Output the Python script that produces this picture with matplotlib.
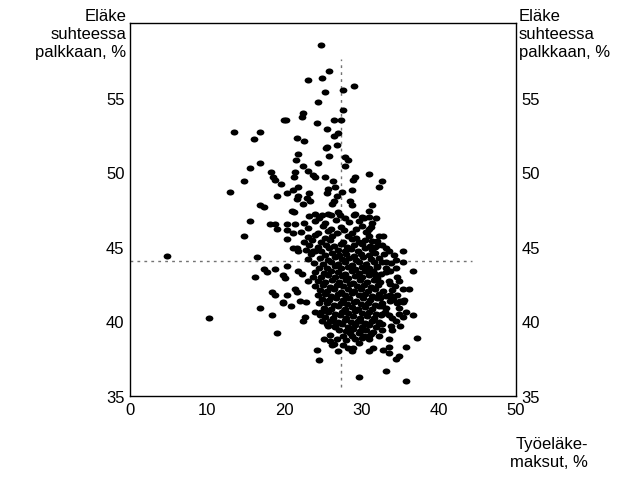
import matplotlib.pyplot as plt
from matplotlib.path import Path
from matplotlib.transforms import Affine2D

plt.rcParams['font.family'] = ['Liberation Sans', 'DejaVu Sans']
plt.rcParams['font.size'] = 11.5

# points: (maksut %, eläke %)
pts_upper = [(24.7, 58.5), (25.8, 56.8), (24.9, 56.3), (23.0, 56.2), (29.0, 55.8), (27.6, 55.5),
             (25.3, 55.4), (24.4, 54.7), (27.6, 54.2), (22.4, 54.0), (22.3, 53.7), (19.9, 53.5),
             (20.2, 53.5), (26.4, 53.5), (27.3, 53.5), (24.2, 53.3), (25.5, 52.9), (16.9, 52.7),
             (26.4, 52.4), (27.0, 52.6), (16.1, 52.2), (21.6, 52.3), (22.5, 52.1), (25.5, 51.7),
             (26.8, 51.8), (13.5, 52.7), (16.8, 50.6), (15.6, 50.3), (14.8, 49.4), (13.0, 48.7)]

pts_mid = [(25.4, 51.6), (21.7, 51.2), (21.5, 50.8), (25.8, 51.1), (27.9, 51.0), (28.3, 50.8),
           (22.4, 50.4), (24.3, 50.6), (27.9, 50.4), (23.0, 50.1), (23.7, 49.8), (24.0, 49.7),
           (21.4, 50.0), (21.2, 49.7), (25.3, 49.7), (18.2, 50.0), (18.5, 49.7), (18.8, 49.5),
           (29.2, 49.7), (28.9, 49.5), (30.9, 49.9), (26.3, 49.4), (26.6, 49.0), (19.5, 49.2),
           (21.7, 49.0), (21.1, 48.8), (20.4, 48.6), (23.2, 48.6), (22.9, 48.3), (25.7, 48.9),
           (25.5, 48.6), (27.5, 48.7), (28.8, 48.8), (19.1, 48.4), (21.7, 48.4), (21.6, 48.2),
           (23.3, 48.1), (22.4, 47.9), (26.8, 48.4), (26.4, 48.1), (26.2, 47.9), (28.5, 48.1),
           (28.8, 47.8), (16.9, 47.8), (17.3, 47.7), (21.0, 47.4), (21.2, 47.3), (24.0, 47.2),
           (24.9, 47.1), (25.7, 47.2), (27.0, 47.3), (27.2, 47.1), (29.2, 47.2), (30.1, 47.0),
           (30.9, 47.4), (18.1, 46.5), (18.8, 46.5), (20.3, 46.5), (21.4, 46.5)]

pts_right = [(32.6, 49.4), (32.2, 49.0), (31.3, 47.8), (31.0, 47.0), (31.9, 46.9), (30.9, 46.2),
             (30.7, 46.0), (32.2, 45.7), (32.0, 45.4), (31.4, 45.4), (31.8, 45.0), (32.6, 45.1),
             (33.1, 44.9), (35.4, 44.7), (34.4, 44.1), (35.4, 44.0), (36.7, 43.4), (33.1, 43.3),
             (32.0, 43.7), (31.5, 43.4), (31.8, 43.2), (32.7, 44.0), (33.2, 44.0), (34.8, 42.7),
             (33.5, 42.7), (33.7, 42.5), (32.0, 42.9), (35.3, 42.2), (36.1, 42.2), (33.7, 41.8),
             (33.1, 41.7)]

pts_low_right = [(30.9, 39.0), (32.3, 39.0), (33.5, 38.8), (37.2, 38.9), (35.7, 38.3), (31.5, 38.2),
                 (30.9, 38.0), (32.8, 38.1), (33.6, 38.3), (33.6, 37.9), (34.8, 37.7), (34.4, 37.5),
                 (33.2, 36.7), (35.8, 36.0), (34.0, 39.4), (35.0, 39.7), (36.7, 40.4), (35.4, 40.3),
                 (34.8, 40.5), (34.0, 40.2), (32.2, 39.8), (32.7, 39.8), (31.4, 40.0), (33.5, 40.4),
                 (32.7, 40.5), (34.8, 40.9), (35.0, 41.4), (35.3, 41.3), (33.7, 41.4), (32.7, 41.0),
                 (32.4, 41.6), (33.5, 41.7)]

pts_low_left = [(16.9, 40.9), (18.4, 40.4), (19.8, 41.2), (20.8, 41.0), (22.0, 41.4), (22.8, 41.3),
                (19.0, 39.2), (24.0, 40.6), (24.6, 40.4), (22.7, 40.3), (22.4, 40.0), (24.9, 40.0),
                (25.5, 39.8), (26.2, 40.0), (26.6, 39.7), (25.1, 38.8), (25.9, 38.7), (26.2, 38.4),
                (24.2, 38.1), (24.5, 37.4), (27.0, 38.0), (28.3, 38.2), (28.9, 38.2), (28.8, 38.0),
                (29.6, 36.3), (28.8, 39.0), (29.6, 39.2), (30.1, 38.9), (29.8, 40.0), (30.5, 39.8)]

pts_left = [(15.5, 46.7), (14.8, 45.7), (4.8, 44.4), (10.2, 40.2), (16.5, 44.3), (16.2, 43.0),
            (19.1, 46.2), (20.4, 46.1), (21.1, 45.9), (20.3, 45.5), (21.6, 44.9), (21.7, 44.7),
            (21.1, 44.9), (24.0, 44.7), (23.7, 44.7), (17.4, 43.5), (17.8, 43.3), (18.8, 43.5),
            (20.3, 43.7), (19.8, 43.1), (20.1, 42.9), (21.7, 43.4), (22.3, 43.2), (23.0, 42.7),
            (18.4, 42.0), (18.8, 41.8), (20.3, 41.8), (21.4, 42.2), (21.6, 42.0), (19.8, 41.3)]

# dense core (estimated, overlapping dots)
pts_core = [
    (23.2, 47.05), (24.5, 46.9), (26.0, 47.1), (27.8, 46.95), (29.0, 47.1), (30.3, 46.9),
    (22.6, 46.6), (24.0, 46.75), (25.3, 46.6), (26.7, 46.8), (28.4, 46.65), (29.7, 46.75), (31.4, 46.6),
    (23.0, 46.25), (25.0, 46.4), (26.1, 46.2), (27.3, 46.35), (29.3, 46.2), (30.1, 46.4), (31.2, 46.3),
    (22.2, 46.0), (24.4, 45.9), (25.6, 46.05), (26.8, 45.95), (27.7, 46.1), (28.8, 45.9), (30.6, 46.0),
    (23.0, 45.65), (24.0, 45.8), (25.2, 45.6), (26.2, 45.75), (28.3, 45.7), (29.3, 45.6), (31.0, 45.75),
    (32.8, 45.7),
    (22.5, 45.35), (23.6, 45.45), (24.8, 45.3), (25.9, 45.45), (27.6, 45.35), (28.7, 45.5), (29.6, 45.3),
    (30.5, 45.45),
    (23.2, 45.1), (24.3, 45.0), (25.4, 45.15), (26.4, 45.05), (27.3, 45.2), (28.1, 45.0), (29.0, 45.1),
    (30.0, 45.2), (31.1, 45.05), (32.1, 45.15),
    (22.8, 44.8), (24.7, 44.75), (25.8, 44.9), (26.9, 44.8), (27.8, 44.7), (28.6, 44.85), (29.5, 44.75),
    (30.4, 44.9), (31.4, 44.8), (33.6, 44.75),
    (23.5, 44.5), (25.3, 44.45), (26.2, 44.6), (27.1, 44.45), (28.0, 44.55), (29.0, 44.4), (29.9, 44.55),
    (30.9, 44.45), (31.8, 44.6), (32.9, 44.5), (34.2, 44.45),
    (23.0, 44.2), (24.6, 44.25), (25.7, 44.1), (26.6, 44.3), (27.5, 44.15), (28.4, 44.25), (29.3, 44.1),
    (30.2, 44.3), (31.2, 44.2), (32.3, 44.25),
    (23.8, 43.9), (25.0, 43.85), (26.1, 44.0), (27.0, 43.85), (27.9, 43.95), (28.8, 43.8), (29.7, 43.95),
    (30.6, 43.85), (31.6, 44.0), (33.8, 43.9),
    (24.5, 43.6), (25.5, 43.55), (26.5, 43.7), (27.3, 43.55), (28.2, 43.65), (29.2, 43.5), (30.1, 43.65),
    (31.0, 43.55), (32.0, 43.65), (33.2, 43.6), (34.4, 43.55),
    (24.0, 43.3), (25.1, 43.25), (26.0, 43.4), (27.0, 43.3), (27.8, 43.2), (28.7, 43.35), (29.6, 43.25),
    (30.5, 43.4), (31.4, 43.3), (32.5, 43.2), (33.7, 43.35),
    (23.7, 43.0), (24.7, 42.95), (25.6, 43.1), (26.6, 42.95), (27.4, 43.05), (28.3, 42.9), (29.1, 43.05),
    (30.0, 42.95), (31.0, 43.1), (31.9, 42.95), (34.6, 43.0),
    (24.3, 42.7), (25.2, 42.65), (26.2, 42.8), (27.1, 42.65), (28.0, 42.75), (28.9, 42.6), (29.8, 42.75),
    (30.7, 42.65), (31.6, 42.8), (32.4, 42.65),
    (24.0, 42.4), (25.0, 42.45), (25.9, 42.3), (26.8, 42.45), (27.6, 42.35), (28.5, 42.5), (29.4, 42.35),
    (30.3, 42.45), (31.2, 42.3), (32.1, 42.45), (34.3, 42.4),
    (24.6, 42.1), (25.5, 42.05), (26.4, 42.15), (27.3, 42.0), (28.2, 42.15), (29.0, 42.05), (29.9, 42.2),
    (30.8, 42.05), (31.8, 42.15), (32.8, 42.05), (34.0, 42.1),
    (24.3, 41.8), (25.2, 41.85), (26.1, 41.7), (27.0, 41.85), (27.9, 41.75), (28.7, 41.9), (29.6, 41.75),
    (30.5, 41.85), (31.4, 41.7), (32.3, 41.85), (34.6, 41.8),
    (24.9, 41.5), (25.8, 41.45), (26.7, 41.6), (27.6, 41.45), (28.4, 41.55), (29.3, 41.4), (30.2, 41.55),
    (31.1, 41.45), (32.0, 41.6), (34.1, 41.5), (35.5, 41.45),
    (24.5, 41.2), (25.5, 41.25), (26.4, 41.1), (27.3, 41.25), (28.1, 41.15), (29.0, 41.3), (29.9, 41.15),
    (30.8, 41.25), (31.7, 41.1), (32.6, 41.25), (34.6, 41.2),
    (25.1, 40.9), (26.0, 40.85), (26.9, 41.0), (27.8, 40.85), (28.7, 40.95), (29.5, 40.8), (30.4, 40.95),
    (31.3, 40.85), (32.2, 41.0), (33.2, 40.9),
    (24.8, 40.6), (25.7, 40.65), (26.6, 40.5), (27.5, 40.65), (28.3, 40.55), (29.2, 40.7), (30.1, 40.55),
    (31.0, 40.65), (31.9, 40.5), (33.0, 40.65), (35.8, 40.6),
    (25.3, 40.3), (26.3, 40.25), (27.2, 40.4), (28.0, 40.25), (28.9, 40.35), (29.8, 40.2), (30.7, 40.35),
    (31.6, 40.25), (32.5, 40.4),
    (25.9, 40.0), (26.9, 39.95), (27.8, 40.1), (28.6, 39.95), (29.5, 40.05), (30.4, 39.9), (31.3, 40.05),
    (32.2, 39.95), (34.5, 40.0),
    (25.6, 39.7), (26.6, 39.65), (27.5, 39.8), (28.3, 39.65), (29.2, 39.75), (30.1, 39.6), (31.0, 39.75),
    (31.9, 39.65), (33.8, 39.7),
    (27.1, 39.4), (28.0, 39.35), (28.9, 39.5), (29.8, 39.35), (30.6, 39.45), (31.5, 39.3), (32.6, 39.45),
    (25.9, 39.1), (27.6, 39.05), (28.5, 39.2), (30.3, 39.05), (31.2, 39.15),
    (26.8, 38.8), (28.0, 38.75), (29.1, 38.85), (31.0, 38.8),
    (26.4, 38.5), (27.6, 38.45), (29.7, 38.55),
]

mean_maksut = 27.3
mean_elake = 44.07

xs, ys = [], []
for group in [pts_upper, pts_mid, pts_right, pts_low_right, pts_low_left, pts_left, pts_core]:
    for x, y in group:
        xs.append(x)
        ys.append(y)

# slightly flattened dot, like the original
dot = Path.unit_circle().transformed(Affine2D().scale(1.0, 0.78))

fig = plt.figure(figsize=(6.36, 4.85), dpi=100)
ax = fig.add_axes([130 / 636, 1 - 397 / 485, 386 / 636, 373 / 485])

ax.plot([mean_maksut, mean_maksut], [35.6, 57.6], color='0.45', lw=1.0,
        linestyle=(0, (2, 3)), zorder=1)
ax.plot([0, 44.3], [mean_elake, mean_elake], color='0.45', lw=1.0,
        linestyle=(0, (2, 3)), zorder=1)
ax.plot(xs, ys, linestyle='none', marker=dot, ms=5.6, color='black', mew=0, zorder=2)

ax.set_xlim(0, 50)
ax.set_ylim(35, 60)
ax.set_xticks([0, 10, 20, 30, 40, 50])
ax.set_yticks([35, 40, 45, 50, 55])
ax.tick_params(axis='both', direction='in', length=0, pad=4, labelsize=12)
ax.tick_params(axis='y', labelright=True, right=True)
for s in ax.spines.values():
    s.set_linewidth(1.0)

fig.text(126 / 636, 1 - 9 / 485, 'Eläke\nsuhteessa\npalkkaan, %', ha='right', va='top',
         fontsize=12, linespacing=1.25)
fig.text(519 / 636, 1 - 9 / 485, 'Eläke\nsuhteessa\npalkkaan, %', ha='left', va='top',
         fontsize=12, linespacing=1.25)
fig.text(588 / 636, 1 - 437 / 485, 'Työeläke-\nmaksut, %', ha='right', va='top',
         fontsize=12, linespacing=1.25)

fig.savefig('out.png', dpi=100)
